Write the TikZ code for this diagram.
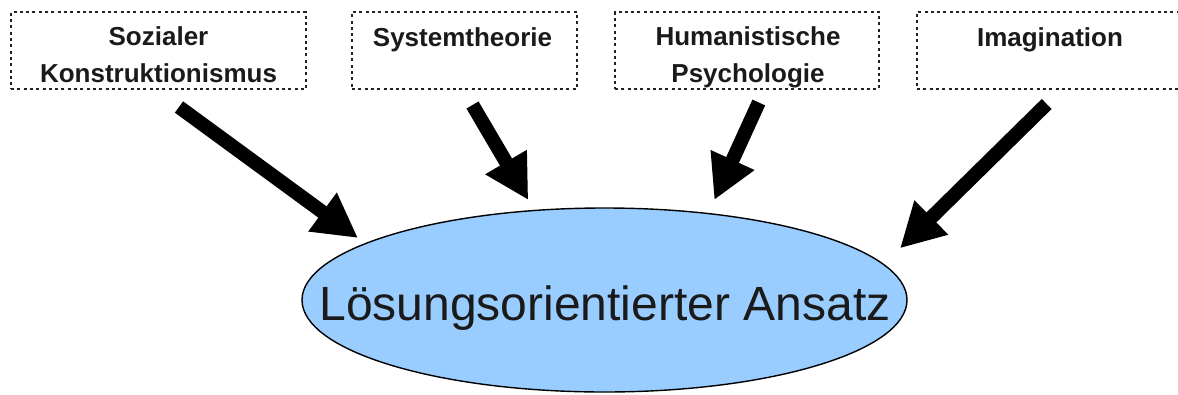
\documentclass[tikz,border=0pt]{standalone}
\usepackage{fontspec}
\setmainfont{Liberation Sans}
\usetikzlibrary{arrows.meta,shapes.geometric}
\definecolor{boxline}{HTML}{222222}
\definecolor{txt}{HTML}{1A1A1A}
\definecolor{ellfill}{HTML}{99CCFF}
\tikzset{
  dbox/.style={draw=boxline, line width=1.5pt, dash pattern=on 3pt off 3.3pt, inner sep=0pt, fill=white},
  boxtext/.style={text=txt, inner sep=0pt, align=center, font=\fontsize{26}{36.7}\selectfont\bfseries},
  blk/.style={line width=14pt, black, -{Triangle[width=45pt,length=44pt]}},
  ell/.style={ellipse, draw=black, line width=1.4pt, fill=ellfill, inner sep=0pt,
    minimum width=605pt, minimum height=184pt},
  elltext/.style={text=txt, inner sep=0pt, font=\fontsize{48}{56}\selectfont}
}
\begin{document}
\begin{tikzpicture}[x=1pt,y=-1pt]
\clip (0,0) rectangle (1178,394);
\fill[white] (0,0) rectangle (1178,394);
% boxes
\node[dbox, minimum width=295pt, minimum height=77pt] (b1) at (158.5,50.5) {};
\node[dbox, minimum width=225pt, minimum height=77pt] (b2) at (464.5,50.5) {};
\node[dbox, minimum width=264pt, minimum height=77pt] (b3) at (747,50.5) {};
\node[dbox, minimum width=266pt, minimum height=77pt] (b4) at (1050,50.5) {};
% texts
\node[boxtext, anchor=base] (t1) at (158.5,82) {Sozialer\\Konstruktionismus};
\node[boxtext, anchor=base] (t2) at (462.5,46) {Systemtheorie};
\node[boxtext, anchor=base] (t3) at (748,82) {Humanistische\\Psychologie};
\node[boxtext, anchor=base] (t4) at (1050,46) {Imagination};
% ellipse
\node[ell] (e) at (604.5,300) {};
\node[elltext, anchor=base] (et) at (605,320) {Lösungsorientierter Ansatz};
% arrow ends
\coordinate (s1) at (179,107);
\coordinate (e1) at (358,238);
\coordinate (s2) at (472.5,105);
\coordinate (e2) at (528.3,200);
\coordinate (s3) at (758.8,102.5);
\coordinate (e3) at (714.3,200);
\coordinate (s4) at (1046.7,104);
\coordinate (e4) at (900,248.3);
\draw[blk] (s1) -- (e1);
\draw[blk] (s2) -- (e2);
\draw[blk] (s3) -- (e3);
\draw[blk] (s4) -- (e4);
\end{tikzpicture}
\end{document}
